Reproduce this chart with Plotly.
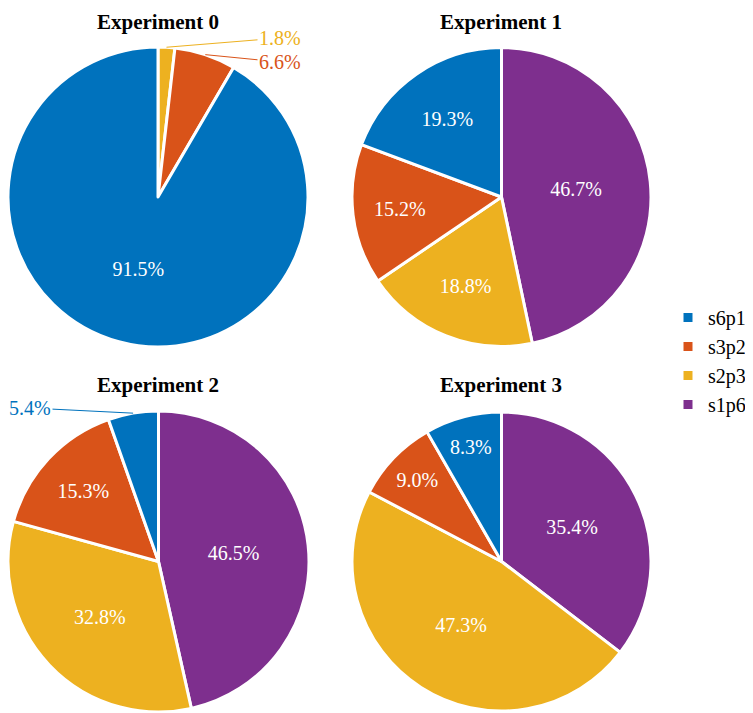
import math
import plotly.graph_objects as go

labels = ['s6p1', 's3p2', 's2p3', 's1p6']
colors = ['#0072BD', '#D95319', '#EDB120', '#7E2F8E']

titles = ['Experiment 0', 'Experiment 1', 'Experiment 2', 'Experiment 3']
exp0 = [91.5, 6.6, 1.8, 0.0]
exp1 = [19.3, 15.2, 18.8, 46.7]
exp2 = [5.4, 15.3, 32.8, 46.5]
exp3 = [8.3, 9.0, 47.3, 35.4]
values = [exp0, exp1, exp2, exp3]

# slices whose label sits outside, with a leader line: (pie, slice, label x, label y)
outside = [(0, 2, 280, 38), (0, 1, 280, 62), (2, 0, 30, 408)]

# page has an 8px body margin, so work in page pixels and shift
OFF = 8
W, H = 753 - OFF, 713 - OFF
domains = [
    (8, 308, 47, 347),
    (352, 651, 47, 347),
    (8, 309, 411, 712),
    (352, 651, 411, 712),
]


def px(x):
    return (x - OFF) / W


def py(y):
    return 1 - (y - OFF) / H


FONT = 'Liberation Serif'

fig = go.Figure()
for i, vals in enumerate(values):
    x0, x1, y0, y1 = domains[i]
    pos = ['inside' if v > 0 else 'none' for v in vals]
    for p, s, _, _ in outside:
        if p == i:
            pos[s] = 'none'
    # reversed + clockwise == counterclockwise from 12 o'clock
    fig.add_trace(go.Pie(
        labels=labels[::-1], values=vals[::-1], sort=False,
        direction='clockwise', rotation=0,
        marker=dict(colors=colors[::-1], line=dict(color='white', width=3)),
        texttemplate='%{value:.1f}%',
        textposition=pos[::-1],
        insidetextorientation='horizontal',
        insidetextfont=dict(color='white', size=20, family=FONT),
        hoverinfo='label+percent',
        showlegend=(i == 1),
        domain=dict(x=[px(x0), min(px(x1), 1)], y=[max(py(y1), 0), py(y0)]),
    ))

# outside labels: leader from the slice edge to the text
for p, s, tx, ty in outside:
    x0, x1, y0, y1 = domains[p]
    cx, cy, r = (x0 + x1) / 2, (y0 + y1) / 2, (x1 - x0) / 2
    vals = values[p]
    mid = (sum(vals[:s]) + vals[s] / 2) / sum(vals) * 2 * math.pi
    ex, ey = cx - r * math.sin(mid), cy - r * math.cos(mid)
    fig.add_annotation(text=f'{vals[s]:.1f}%', x=px(ex), y=py(ey),
                       xref='paper', yref='paper', ax=tx - ex, ay=ty - ey,
                       showarrow=True, arrowhead=0, arrowwidth=1,
                       arrowcolor=colors[s],
                       font=dict(size=20, color=colors[s], family=FONT))

title_pos = [(158, 8), (501, 8), (158, 371), (501, 371)]
for t, (tx, ty) in zip(titles, title_pos):
    fig.add_annotation(text='<b>' + t + '</b>', x=px(tx), y=py(ty),
                       xref='paper', yref='paper', showarrow=False,
                       xanchor='center', yanchor='top',
                       font=dict(size=21, color='black', family=FONT))

fig.update_layout(
    width=W, height=H,
    margin=dict(l=0, r=0, t=0, b=0, autoexpand=False),
    paper_bgcolor='white', plot_bgcolor='white',
    font=dict(family=FONT, size=20, color='black'),
    legend=dict(x=px(668), y=py(298), xanchor='left', yanchor='top',
                traceorder='reversed',
                font=dict(size=20, family=FONT), itemwidth=30),
)

fig.write_html("out.html")
